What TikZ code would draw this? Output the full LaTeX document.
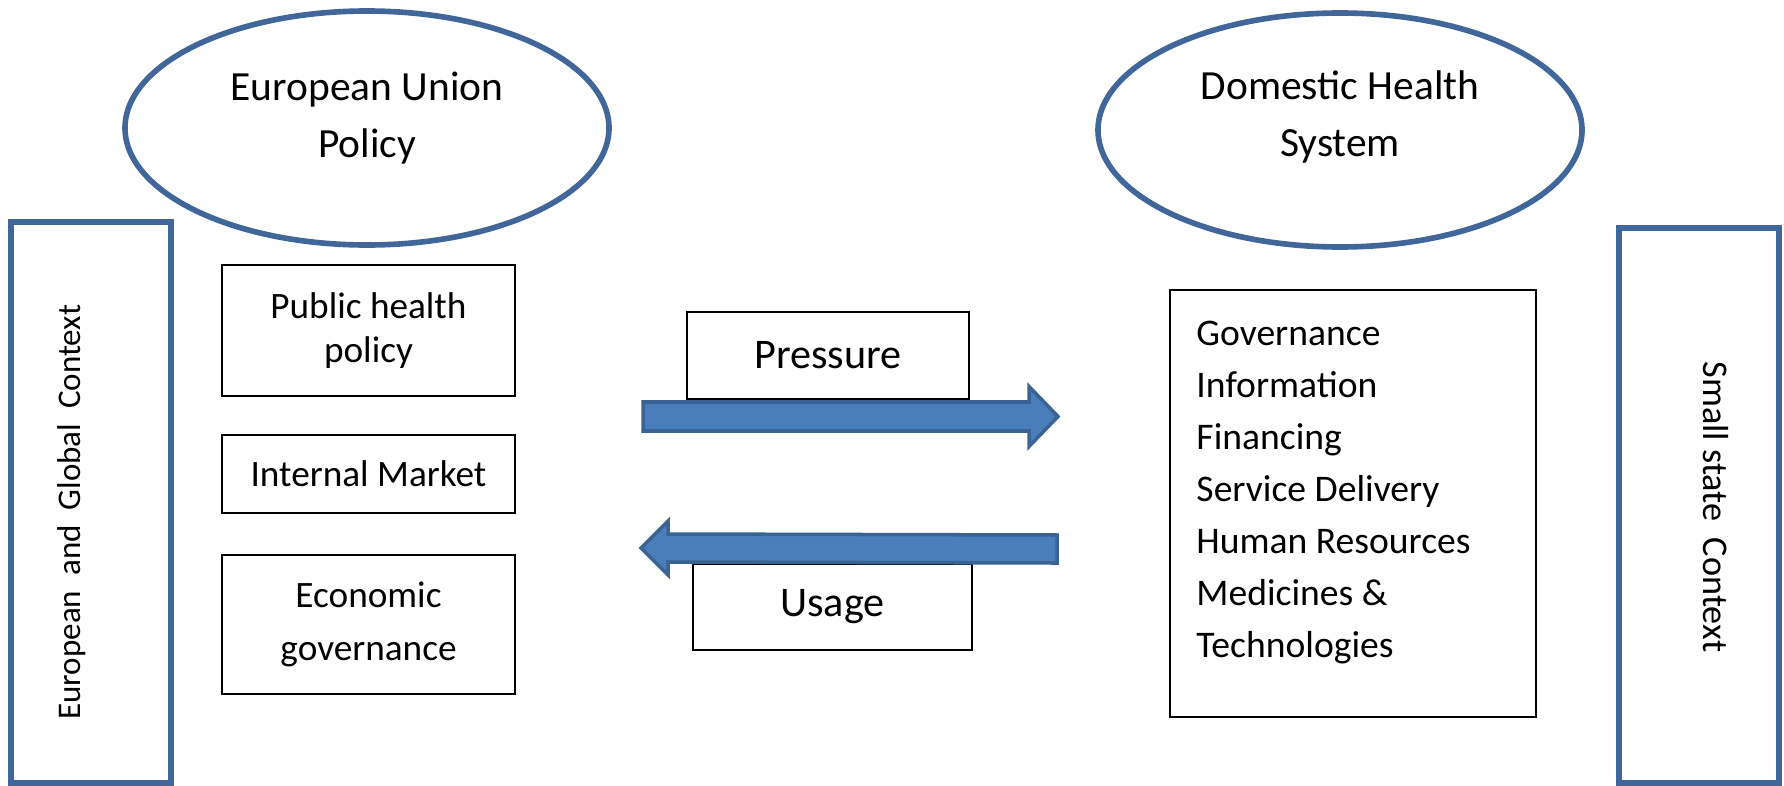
\documentclass[tikz,border=0pt]{standalone}
\usepackage{fontspec}
\setmainfont{Carlito}
\usetikzlibrary{shapes.geometric}
\usetikzlibrary{calc}
\definecolor{ctxblue}{HTML}{41679A}
\definecolor{arrowfill}{HTML}{4A7EBB}
\definecolor{arrowline}{HTML}{3A6394}

\begin{document}
\begin{tikzpicture}[
  oval/.style={ellipse, draw=ctxblue, line width=1.6pt, minimum width=4.84cm, minimum height=2.34cm},
  ovaltext/.style={align=center, font=\fontsize{11.8}{16}\selectfont},
  ctxbox/.style={draw=ctxblue, line width=1.7pt, minimum width=1.6cm},
  itembox/.style={draw, line width=0.7pt, minimum width=2.93cm, align=center, font=\fontsize{10.6}{12.3}\selectfont},
  flow/.style={fill=arrowfill, draw=arrowline, line width=1pt}]
  \useasboundingbox (0,0) rectangle (17.84,-7.85);

  % the two sides
  \node [oval] (eu) at (3.67,-1.28) {};
  \node [ovaltext] (eutxt) at ($(eu.center)+(0,0.10)$) {European Union\\Policy};
  \node [oval] (dhs) at (13.40,-1.30) {};
  \node [ovaltext] (dhstxt) at ($(dhs.center)+(0,0.13)$) {Domestic Health\\System};

  % context frames
  \node [ctxbox, minimum height=5.61cm] (euctx) at (0.91,-5.025) {};
  \node [ctxbox, minimum height=5.55cm] (smallctx) at (16.985,-5.055) {};
  \node [rotate=90, font=\fontsize{9.4}{12}\selectfont] (eutext) at (0.72,-5.12) {European\ \ and\ \ Global\ \ Context};
  \node [rotate=-90, font=\fontsize{10.3}{12}\selectfont] (smalltext) at (17.16,-5.07) {Small state\ \ Context};

  % EU policy areas
  \node [itembox, minimum height=1.31cm] (pub) at (3.685,-3.305) {Public health\\policy};
  \node [itembox, minimum height=0.78cm] (market) at (3.685,-4.74) {Internal Market};
  \node [itembox, minimum height=1.39cm, font=\fontsize{10.6}{15}\selectfont] (econ) at (3.685,-6.245) {Economic\\governance};

  % health system building blocks
  \node [draw, line width=0.7pt, minimum width=3.66cm, minimum height=4.27cm] (dhsbox) at (13.53,-5.035) {};
  \node [anchor=north west, align=left, inner sep=0pt, font=\fontsize{10.7}{14.8}\selectfont] (dhslist) at ($(dhsbox.north west)+(0.27,-0.32)$)
    {Governance\\Information\\Financing\\Service Delivery\\Human Resources\\Medicines \&\\Technologies};

  % labels of the flows
  \node [itembox, minimum width=2.82cm, minimum height=0.87cm, font=\fontsize{12}{14}\selectfont] (pressure) at (8.28,-3.555) {Pressure};
  \node [itembox, minimum width=2.79cm, minimum height=0.86cm, font=\fontsize{12}{14}\selectfont] (usage) at (8.325,-6.07) {Usage};

  % block arrows
  \coordinate (ps) at (6.43,-4.165);
  \coordinate (pe) at (10.58,-4.165);
  \draw [flow] ($(ps)+(0,0.145)$) -- ($(pe)+(-0.29,0.145)$) -- ($(pe)+(-0.29,0.30)$) -- (pe)
    -- ($(pe)+(-0.29,-0.30)$) -- ($(pe)+(-0.29,-0.145)$) -- ($(ps)+(0,-0.145)$) -- cycle;
  \coordinate (us) at (10.57,-5.49);
  \coordinate (ue) at (6.41,-5.48);
  \draw [flow] ($(us)+(0,0.14)$) -- ($(ue)+(0.27,0.14)$) -- ($(ue)+(0.27,0.27)$) -- (ue)
    -- ($(ue)+(0.27,-0.27)$) -- ($(ue)+(0.27,-0.14)$) -- ($(us)+(0,-0.14)$) -- cycle;
\end{tikzpicture}
\end{document}
